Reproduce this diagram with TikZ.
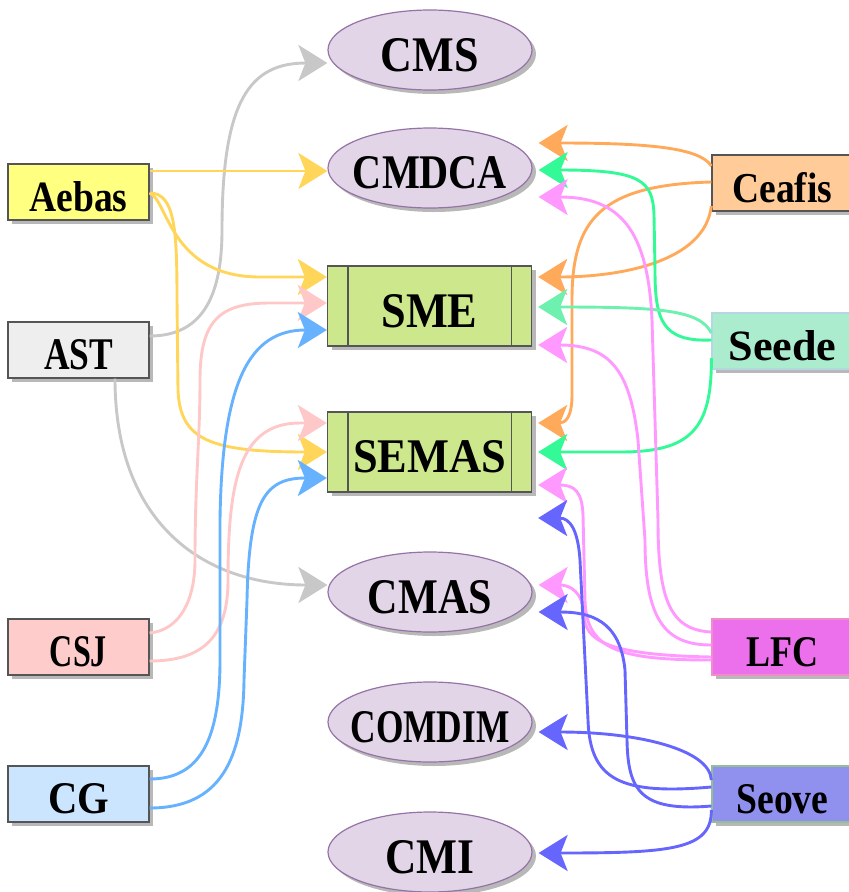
\documentclass[tikz,border=0pt]{standalone}
\usepackage{fontspec}
\setmainfont{Liberation Serif}
\usetikzlibrary{arrows.meta,shapes.geometric,shadows}
\newcommand{\nlab}[3]{\makebox[0pt][c]{\raisebox{-5pt}[\height][\depth]{\resizebox{#1}{#2}{\bfseries #3}}}}
\definecolor{cyel}{RGB}{255,255,128}
\definecolor{cast}{RGB}{238,238,238}
\definecolor{ccsj}{RGB}{255,204,204}
\definecolor{ccg}{RGB}{204,229,255}
\definecolor{ccea}{RGB}{255,204,153}
\definecolor{csee}{RGB}{172,236,206}
\definecolor{clfc}{RGB}{236,112,236}
\definecolor{csev}{RGB}{144,144,238}
\definecolor{cell}{RGB}{225,213,231}
\definecolor{cellb}{RGB}{150,115,166}
\definecolor{cgrn}{RGB}{205,232,140}
\definecolor{cbord}{RGB}{85,85,85}
\definecolor{bsee}{RGB}{180,215,225}
\definecolor{blfc}{RGB}{240,140,200}
\definecolor{bsev}{RGB}{150,190,150}
\definecolor{egray}{RGB}{200,200,200}
\definecolor{eyel}{RGB}{255,214,90}
\definecolor{epink}{RGB}{255,200,200}
\definecolor{eblue}{RGB}{102,178,255}
\definecolor{eora}{RGB}{255,170,90}
\definecolor{egrn}{RGB}{51,250,150}
\definecolor{emint}{RGB}{110,240,175}
\definecolor{emag}{RGB}{255,153,255}
\definecolor{eind}{RGB}{102,102,255}
\tikzset{
  shad/.style={drop shadow={shadow xshift=4pt,shadow yshift=-4pt,fill=black!28,opacity=1}},
  sidebox/.style={rectangle, draw=cbord, line width=1.3pt, minimum width=141pt, minimum height=56pt, inner sep=0pt, shad},
  ellnode/.style={ellipse, draw=cellb, fill=cell, line width=1.2pt, minimum width=204pt, minimum height=80pt, inner sep=0pt, shad},
  greenbox/.style={rectangle, draw=cbord, fill=cgrn, line width=1.3pt, minimum width=204pt, minimum height=80pt, inner sep=0pt, shad},
  conn/.style={line width=2.9pt, -{Stealth[length=29pt,width=36pt,inset=7pt]}}
}
\begin{document}
\begin{tikzpicture}[x=1pt,y=-1pt]
\useasboundingbox (0,0) rectangle (849,892);
\clip (0,0) rectangle (849,892);
% left boxes
\node[sidebox, fill=cyel] (Aebas) at (78.5,192) {\nlab{98pt}{30pt}{Aebas}};
\node[sidebox, fill=cast] (AST) at (78.5,350) {\nlab{69pt}{30pt}{AST}};
\node[sidebox, fill=ccsj] (CSJ) at (78.5,647) {\nlab{57pt}{30pt}{CSJ}};
\node[sidebox, fill=ccg] (CG) at (78.5,794) {\nlab{61pt}{30pt}{CG}};
% right boxes
\node[sidebox, fill=ccea] (Ceafis) at (782.5,183) {\nlab{100pt}{30pt}{Ceafis}};
\node[sidebox, fill=csee, draw=bsee] (Seede) at (782.5,341) {\nlab{108pt}{30pt}{Seede}};
\node[sidebox, fill=clfc, draw=blfc] (LFC) at (782.5,647) {\nlab{72pt}{29pt}{LFC}};
\node[sidebox, fill=csev, draw=bsev] (Seove) at (782.5,794) {\nlab{92pt}{29pt}{Seove}};
% centre
\node[ellnode] (CMS) at (430,50) {\nlab{98pt}{33pt}{CMS}};
\node[ellnode] (CMDCA) at (430,168) {\nlab{154pt}{32pt}{CMDCA}};
\node[greenbox] (SME) at (429.5,306) {\nlab{96pt}{33pt}{SME}};
\node[greenbox] (SEMAS) at (429.5,452) {\nlab{153pt}{32pt}{SEMAS}};
\node[ellnode] (CMAS) at (430,592) {\nlab{124pt}{33pt}{CMAS}};
\node[ellnode] (COMDIM) at (430,722) {\nlab{159pt}{31pt}{COMDIM}};
\node[ellnode] (CMI) at (430,852) {\nlab{89pt}{33pt}{CMI}};
\foreach \n in {SME,SEMAS}{
  \draw[cbord, line width=1.3pt] ([xshift=21pt]\n.north west) -- ([xshift=21pt]\n.south west);
  \draw[cbord, line width=1.3pt] ([xshift=-21pt]\n.north east) -- ([xshift=-21pt]\n.south east);
}
% gray
\draw[conn,egray] ([yshift=14pt]AST.east) .. controls (200,336) and (222,300) .. (222,230) .. controls (222,100) and (250,63) .. ([yshift=-13pt]CMS.west);
\draw[conn,egray] ([xshift=36.5pt]AST.south) .. controls (115,520) and (200,585) .. ([yshift=7pt]CMAS.west);
% yellow
\draw[conn,eyel] ([yshift=21pt]Aebas.east) -- ([yshift=-3pt]CMDCA.west);
\draw[conn,eyel] ([yshift=-1pt]Aebas.east) .. controls (168,200) and (170,277) .. (260,277) -- ([yshift=29pt]SME.west);
\draw[conn,eyel] ([yshift=-1pt]Aebas.east) .. controls (175,193) and (177,230) .. (177,300) -- (178,390) .. controls (180,440) and (210,452) .. (SEMAS.west);
% pink
\draw[conn,epink] ([yshift=14pt]CSJ.east) .. controls (180,630) and (195,600) .. (195,560) .. controls (195,480) and (200,440) .. (200,380) .. controls (200,320) and (220,303) .. (270,303) -- ([yshift=3pt]SME.west);
\draw[conn,epink] ([yshift=-14pt]CSJ.east) .. controls (205,661) and (228,635) .. (228,580) .. controls (228,480) and (240,423) .. (300,423) -- ([yshift=29pt]SEMAS.west);
% blue
\draw[conn,eblue] ([yshift=15pt]CG.east) .. controls (200,779) and (220,740) .. (220,660) -- (220,520) .. controls (222,380) and (250,330) .. ([yshift=-24pt]SME.west);
\draw[conn,eblue] ([yshift=-14pt]CG.east) .. controls (220,808) and (243,760) .. (244,680) -- (247,600) .. controls (249,500) and (265,478) .. ([yshift=-26pt]SEMAS.west);
% orange
\draw[conn,eora] ([yshift=17pt]Ceafis.west) .. controls (700,148) and (650,143) .. ([xshift=6pt,yshift=25pt]CMDCA.east);
\draw[conn,eora] ([yshift=1pt]Ceafis.west) .. controls (600,185) and (572,220) .. (572,300) -- (572,395) .. controls (572,418) and (565,423) .. ([xshift=6pt,yshift=29pt]SEMAS.east);
\draw[conn,eora] ([yshift=-23pt]Ceafis.west) .. controls (705,262) and (620,277) .. ([xshift=6pt,yshift=29pt]SME.east);
% green
\draw[conn,egrn] ([yshift=1pt]Seede.west) .. controls (662,342) and (655,320) .. (655,270) -- (654,215) .. controls (653,180) and (640,170) .. ([xshift=6pt,yshift=-2pt]CMDCA.east);
\draw[conn,emint] ([yshift=8pt]Seede.west) .. controls (700,310) and (660,307) .. ([xshift=6pt,yshift=-1pt]SME.east);
\draw[conn,egrn] ([yshift=-17pt]Seede.west) .. controls (712,430) and (690,452) .. (620,452) -- ([xshift=6pt]SEMAS.east);
% magenta
\draw[conn,emag] ([yshift=15pt]LFC.west) .. controls (670,630) and (658,600) .. (658,520) -- (652,320) .. controls (648,230) and (620,197) .. ([xshift=6pt,yshift=-29pt]CMDCA.east);
\draw[conn,emag] ([yshift=2pt]LFC.west) .. controls (665,645) and (645,620) .. (645,540) -- (638,440) .. controls (630,370) and (610,345) .. ([xshift=6pt,yshift=-39pt]SME.east);
\draw[conn,emag] ([yshift=-13pt]LFC.west) .. controls (620,660) and (586,650) .. (585,600) -- (583,515) .. controls (582,492) and (575,485) .. ([xshift=6pt,yshift=-33pt]SEMAS.east);
\draw[conn,emag] ([yshift=-10pt]LFC.west) .. controls (605,655) and (585,640) .. (584,615) .. controls (583,592) and (570,585) .. ([xshift=6pt,yshift=7pt]CMAS.east);
% indigo
\draw[conn,eind] ([yshift=7pt]Seove.west) .. controls (620,795) and (590,780) .. (588,720) -- (580,560) .. controls (578,530) and (570,518) .. ([xshift=6pt,yshift=-66pt]SEMAS.east);
\draw[conn,eind] ([yshift=-12pt]Seove.west) .. controls (640,812) and (628,790) .. (627,740) -- (625,670) .. controls (620,620) and (590,612) .. ([xshift=6pt,yshift=-20pt]CMAS.east);
\draw[conn,eind] ([yshift=14pt]Seove.west) .. controls (710,750) and (640,732) .. ([xshift=6pt,yshift=-10pt]COMDIM.east);
\draw[conn,eind] ([yshift=-16pt]Seove.west) .. controls (712,850) and (670,853) .. ([xshift=6pt,yshift=-1pt]CMI.east);
\end{tikzpicture}
\end{document}
